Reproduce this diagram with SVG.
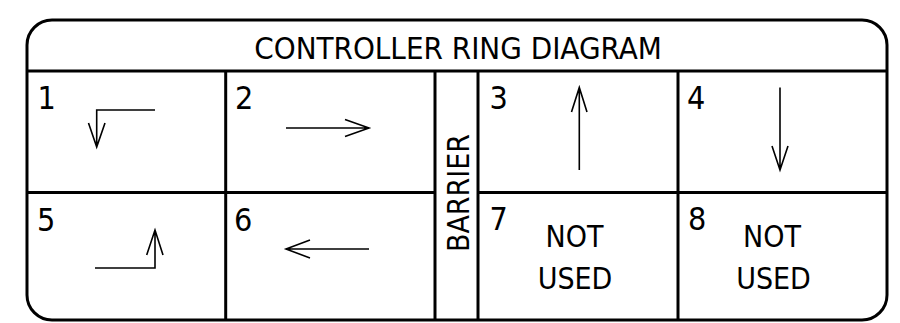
<svg xmlns="http://www.w3.org/2000/svg" width="900" height="323" viewBox="0 0 900 323">
<style>
.frame{fill:none;stroke:#000;stroke-width:3}
.arr{fill:none;stroke:#000;stroke-width:1.6;stroke-linecap:butt;stroke-linejoin:miter}
text{font-family:"DejaVu Sans Condensed","DejaVu Sans",sans-serif;fill:#000}
.num{font-size:32px}
.big{font-size:30px;text-anchor:middle}
</style>
<rect width="900" height="323" fill="#fff"/>
<g id="frame">
<rect class="frame" x="27" y="20" width="860" height="300" rx="25" ry="25"/>
<line class="frame" x1="27" y1="71" x2="887" y2="71"/>
<line class="frame" x1="27" y1="192.5" x2="435" y2="192.5"/>
<line class="frame" x1="478" y1="192.5" x2="887" y2="192.5"/>
<line class="frame" x1="225.7" y1="71" x2="225.7" y2="320"/>
<line class="frame" x1="435" y1="71" x2="435" y2="320"/>
<line class="frame" x1="478" y1="71" x2="478" y2="320"/>
<line class="frame" x1="678" y1="71" x2="678" y2="320"/>
<text id="title" x="458" y="59" style="font-size:31px;text-anchor:middle">CONTROLLER RING DIAGRAM</text>
</g>
<g id="barrier">
<text class="big" transform="translate(468.5,193) rotate(-90)">BARRIER</text>
</g>
<g id="cell1">
<text class="num" x="37.5" y="108.5">1</text>
<path class="arr" d="M155,110 H96.7 V147 M88.5,123 L96.7,147 L105,123"/>
</g>
<g id="cell2">
<text class="num" x="235" y="108.5">2</text>
<path class="arr" d="M286,128 H369 M345,119.5 L369,128 L345,136.5"/>
</g>
<g id="cell3">
<text class="num" x="489.5" y="108.5">3</text>
<path class="arr" d="M579.3,170 V87.5 M571.5,112 L579.3,87.5 L587,112"/>
</g>
<g id="cell4">
<text class="num" x="687" y="108.5">4</text>
<path class="arr" d="M780,87.5 V170 M772,146 L780,170 L788,146"/>
</g>
<g id="cell5">
<text class="num" x="37" y="230.5">5</text>
<path class="arr" d="M95,268 H155 V230 M146.7,255 L155,230 L163,255"/>
</g>
<g id="cell6">
<text class="num" x="234" y="230.5">6</text>
<path class="arr" d="M369,249 H286 M310,240 L286,249 L310,258"/>
</g>
<g id="cell7">
<text class="num" x="489.5" y="229.5">7</text>
<text class="big" x="574.5" y="247">NOT</text>
<text class="big" x="575" y="288.5">USED</text>
</g>
<g id="cell8">
<text class="num" x="688" y="229.5">8</text>
<text class="big" x="772" y="247">NOT</text>
<text class="big" x="773.5" y="288.5">USED</text>
</g>
</svg>
